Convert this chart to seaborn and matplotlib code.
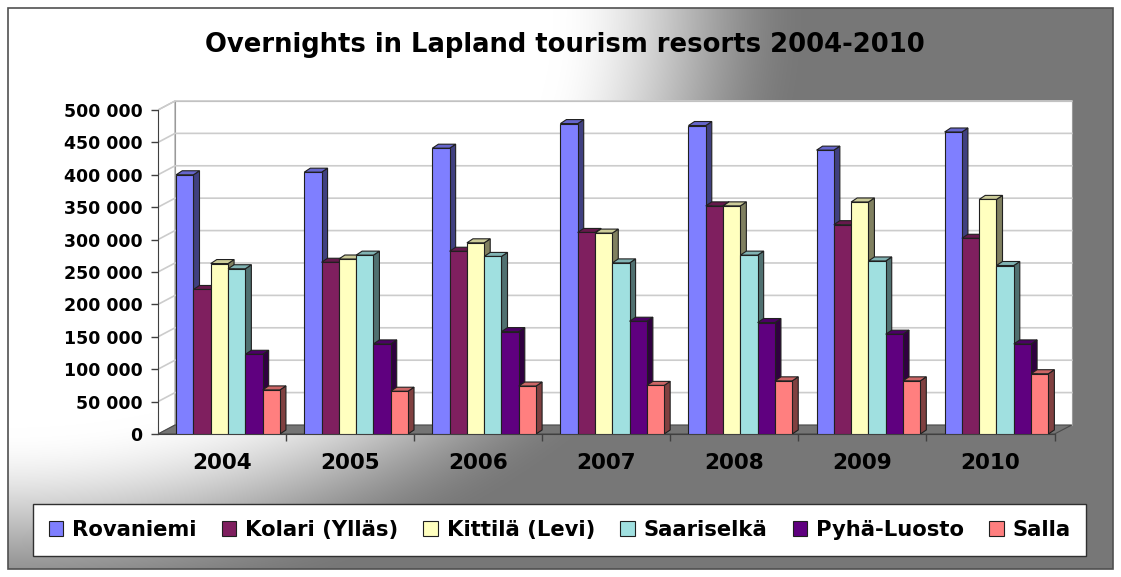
import matplotlib
matplotlib.use('Agg')
import matplotlib.pyplot as plt
import matplotlib.colors as mcolors
from matplotlib.patches import Patch, Polygon, Rectangle
import numpy as np
import pandas as pd
import seaborn as sns

# data
years = ['2004', '2005', '2006', '2007', '2008', '2009', '2010']
resorts = ['Rovaniemi', 'Kolari (Ylläs)', 'Kittilä (Levi)', 'Saariselkä', 'Pyhä-Luosto', 'Salla']
rovaniemi = [400000, 404000, 441000, 479000, 476000, 438000, 466000]
kolari = [223000, 265000, 282000, 311000, 352000, 323000, 302000]
kittila = [263000, 270000, 295000, 310000, 352000, 358000, 362000]
saariselka = [255000, 276000, 274000, 264000, 276000, 267000, 260000]
pyha_luosto = [123000, 139000, 158000, 174000, 172000, 154000, 139000]
salla = [68000, 66000, 74000, 75000, 82000, 82000, 93000]
colors = ['#7f7fff', '#7f1f5f', '#ffffbf', '#a0e0e0', '#5f007f', '#ff7f7f']

series = [rovaniemi, kolari, kittila, saariselka, pyha_luosto, salla]
df = pd.DataFrame([(y, r, v) for r, vals in zip(resorts, series) for y, v in zip(years, vals)],
                  columns=['year', 'resort', 'value'])

W, H = 1121, 577
plt.rcParams['font.family'] = 'DejaVu Sans'
fig = plt.figure(figsize=(W / 100, H / 100), dpi=100, facecolor='white')

# gradient background (white from the top-left corner -> grey)
bw, bh = W - 16, H - 16
xx, yy = np.meshgrid(np.arange(bw), np.arange(bh))
r = np.sqrt(xx ** 2 + (1.3 * yy) ** 2)
t = np.clip((r - 545) / 260.0, 0, 1)
t = t * t * (3 - 2 * t)
g = 1 - t * (1 - 0.467)
img = np.dstack([g, g, g])
fig.figimage(img, xo=8, yo=8, origin='upper', zorder=-10)
fig.patches.append(Rectangle((8 / W, 8 / H), bw / W, bh / H, transform=fig.transFigure,
                             fill=False, edgecolor='#505050', linewidth=1.2))

# axes: left spine at x=158px, zero at y=434px
ax = fig.add_axes([158 / W, 1 - 434 / H, (1075 - 158) / W, (434 - 100) / H])
ax.set_facecolor('none')

sns.barplot(data=df, x='year', y='value', hue='resort', palette=colors, width=0.81,
            saturation=1, edgecolor='#202020', linewidth=0.8, legend=False, ax=ax)

ymax = 515400
ax.set_xlim(-0.5, 6.66)
ax.set_ylim(0, ymax)

# pseudo 3D walls and floor
dxw, dyw = 0.133, 13900
xr_wall = 6.635
ax.add_patch(Polygon([(-0.5, 0), (-0.5 + dxw, dyw), (-0.5 + dxw, 500000 + dyw), (-0.5, 500000)],
                     closed=True, facecolor='white', edgecolor='#9a9a9a', linewidth=0.8, zorder=0.5))
ax.add_patch(Polygon([(-0.5 + dxw, dyw), (xr_wall, dyw), (xr_wall, 500000 + dyw), (-0.5 + dxw, 500000 + dyw)],
                     closed=True, facecolor='white', edgecolor='#9a9a9a', linewidth=0.8, zorder=0.5))
for v in range(50000, 500001, 50000):
    ax.plot([-0.5, -0.5 + dxw, xr_wall], [v, v + dyw, v + dyw], color='#cccccc', linewidth=1.2, zorder=0.8)
ax.add_patch(Polygon([(-0.5, 0), (-0.5 + dxw, dyw), (xr_wall, dyw), (6.5, 0)],
                     closed=True, facecolor='#747474', edgecolor='#4a4a4a', linewidth=0.8, zorder=1))

# 3D faces on the bars, bars sit a little behind the front edge of the floor
shift = 0.047
dx, dy = 0.047, 6200
for i, cont in enumerate(ax.containers):
    base = mcolors.to_rgb(colors[i])
    side = tuple(c * 0.5 for c in base)
    top = tuple(c * 0.8 for c in base)
    for p in cont.patches:
        p.set_x(p.get_x() + shift)
        x0, w, h = p.get_x(), p.get_width(), p.get_height()
        xr = x0 + w
        p.set_zorder(5 + 2 * i)
        ax.add_patch(Polygon([(xr, 0), (xr + dx, dy), (xr + dx, h + dy), (xr, h)], closed=True,
                             facecolor=side, edgecolor='#202020', linewidth=0.8, zorder=4.5 + 2 * i))
        ax.add_patch(Polygon([(x0, h), (xr, h), (xr + dx, h + dy), (x0 + dx, h + dy)], closed=True,
                             facecolor=top, edgecolor='#202020', linewidth=0.8, zorder=4.5 + 2 * i))

for s in ['top', 'right']:
    ax.spines[s].set_visible(False)
ax.spines['left'].set_color('#404040')
ax.spines['bottom'].set_color('#404040')
ax.spines['left'].set_bounds(0, 500000)
ax.spines['bottom'].set_bounds(-0.5, 6.5)

yt = list(range(0, 500001, 50000))
ax.set_yticks(yt)
ax.set_yticklabels([f'{v:,}'.replace(',', ' ') for v in yt], fontsize=12.5, fontweight='bold')
ax.tick_params(axis='y', length=5, width=1, color='#404040', pad=6)
ax.set_xticks(range(len(years)))
ax.set_xticklabels(years, fontsize=15.5, fontweight='bold')
ax.set_xticks([k + 0.5 for k in range(len(years))], minor=True)
ax.tick_params(axis='x', which='major', length=0, pad=14)
ax.tick_params(axis='x', which='minor', length=5, width=1, color='#404040')
ax.set_xlabel('')
ax.set_ylabel('')

fig.text(0.504, 1 - 45 / H, 'Overnights in Lapland tourism resorts 2004-2010',
         ha='center', va='center', fontsize=18.6, fontweight='bold')

handles = [Patch(facecolor=c, edgecolor='#202020', linewidth=0.8) for c in colors]
leg = fig.legend(handles, resorts, loc='center', bbox_to_anchor=(559.5 / W, 1 - 530 / H), ncol=6,
                 prop={'weight': 'bold', 'size': 15.2}, frameon=True, fancybox=False, framealpha=1,
                 edgecolor='#303030', handlelength=0.7, handleheight=0.7, handletextpad=0.4,
                 columnspacing=1.2, borderpad=0.75)
leg.get_frame().set_linewidth(1)

fig.savefig('out.png', dpi=100)
plt.close(fig)
